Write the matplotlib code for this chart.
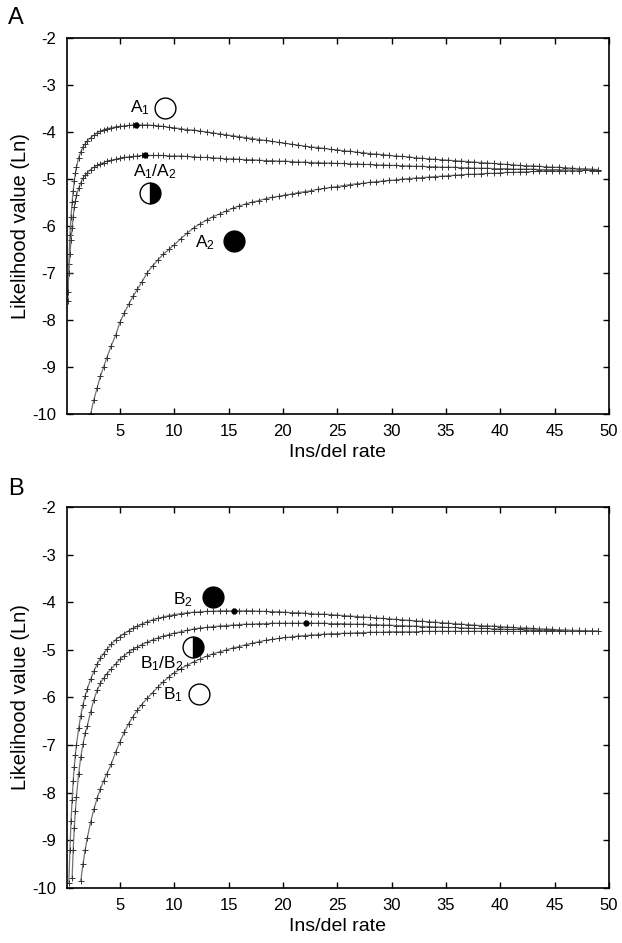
import numpy as np
import matplotlib
matplotlib.use('Agg')
import matplotlib.pyplot as plt

plt.rcParams['font.family'] = ['Liberation Sans', 'DejaVu Sans']
plt.rcParams['mathtext.fontset'] = 'custom'
plt.rcParams['mathtext.rm'] = 'Liberation Sans'
plt.rcParams['mathtext.it'] = 'Liberation Sans:italic'
plt.rcParams['axes.unicode_minus'] = False

nan = np.nan

# ins/del rate grid (shared by all curves)
rate = [0.2, 0.3, 0.4, 0.5, 0.6, 0.7, 0.8, 0.9, 1.0, 1.2, 1.4, 1.6, 1.8, 2.0,
        2.3, 2.6, 2.9, 3.2, 3.5, 3.8, 4.2, 4.6, 5.0, 5.4, 5.8, 6.2, 6.6, 7.0,
        7.5, 8.0, 8.5, 9.0, 9.5, 10.0,
        10.6, 11.2, 11.8, 12.4, 13.0, 13.6, 14.2, 14.8, 15.4, 16.0,
        16.6, 17.2, 17.8, 18.4, 19.0, 19.6, 20.2, 20.8, 21.4, 22.0,
        22.6, 23.2, 23.8, 24.4, 25.0, 25.6, 26.2, 26.8, 27.4, 28.0,
        28.6, 29.2, 29.8, 30.4, 31.0, 31.6, 32.2, 32.8, 33.4, 34.0,
        34.6, 35.2, 35.8, 36.4, 37.0, 37.6, 38.2, 38.8, 39.4, 40.0,
        40.6, 41.2, 41.8, 42.4, 43.0, 43.6, 44.2, 44.8, 45.4, 46.0,
        46.6, 47.2, 47.8, 48.4, 49.0]

# panel A
a1 = [-7.6, -6.8, -6.2, -5.8, -5.5, -5.25, -5.05, -4.88, -4.75, -4.55, -4.42, -4.32, -4.25, -4.19,
      -4.12, -4.07, -4.02, -3.98, -3.95, -3.93, -3.91, -3.89, -3.88, -3.87, -3.86, -3.85, -3.85, -3.85,
      -3.85, -3.86, -3.87, -3.88, -3.90, -3.91,
      -3.93, -3.95, -3.96, -3.98, -4.00, -4.02, -4.04, -4.06, -4.08, -4.10,
      -4.12, -4.14, -4.16, -4.18, -4.20, -4.22, -4.24, -4.26, -4.28, -4.30,
      -4.32, -4.33, -4.35, -4.37, -4.38, -4.40, -4.41, -4.43, -4.44, -4.46,
      -4.47, -4.48, -4.50, -4.51, -4.52, -4.53, -4.55, -4.56, -4.57, -4.58,
      -4.59, -4.60, -4.61, -4.62, -4.63, -4.64, -4.65, -4.66, -4.67, -4.68,
      -4.69, -4.70, -4.71, -4.72, -4.72, -4.73, -4.74, -4.75, -4.75, -4.76,
      -4.77, -4.78, -4.78, -4.79, -4.80]
a12 = [-7.4, -7.0, -6.6, -6.3, -6.05, -5.8, -5.6, -5.47, -5.35, -5.2, -5.08, -4.98, -4.92, -4.87,
       -4.8, -4.75, -4.71, -4.68, -4.65, -4.62, -4.6, -4.58, -4.56, -4.54, -4.53, -4.52, -4.51, -4.5,
       -4.5, -4.5, -4.5, -4.5, -4.51, -4.51,
       -4.51, -4.52, -4.53, -4.54, -4.54, -4.55, -4.56, -4.57, -4.57, -4.58,
       -4.59, -4.59, -4.60, -4.61, -4.61, -4.62, -4.62, -4.63, -4.64, -4.64,
       -4.65, -4.65, -4.66, -4.66, -4.67, -4.67, -4.68, -4.68, -4.69, -4.69,
       -4.70, -4.70, -4.71, -4.71, -4.72, -4.72, -4.73, -4.73, -4.74, -4.74,
       -4.75, -4.75, -4.75, -4.76, -4.76, -4.77, -4.77, -4.77, -4.78, -4.78,
       -4.78, -4.79, -4.79, -4.79, -4.79, -4.80, -4.80, -4.80, -4.80, -4.81,
       -4.81, -4.81, -4.81, -4.82, -4.82]
a2 = [nan, nan, nan, nan, nan, nan, nan, nan, nan, nan, nan, nan, nan, nan,
      -10.0, -9.7, -9.45, -9.2, -9.0, -8.8, -8.55, -8.33, -8.05, -7.85, -7.67, -7.5, -7.35, -7.2,
      -7.0, -6.85, -6.72, -6.6, -6.5, -6.4,
      -6.27, -6.15, -6.04, -5.95, -5.87, -5.80, -5.74, -5.68, -5.62, -5.57,
      -5.53, -5.49, -5.46, -5.42, -5.39, -5.37, -5.34, -5.32, -5.29, -5.27,
      -5.25, -5.22, -5.20, -5.18, -5.16, -5.14, -5.12, -5.10, -5.09, -5.07,
      -5.06, -5.04, -5.03, -5.02, -5.00, -4.99, -4.98, -4.97, -4.96, -4.95,
      -4.94, -4.93, -4.92, -4.91, -4.90, -4.90, -4.89, -4.88, -4.88, -4.87,
      -4.86, -4.86, -4.85, -4.85, -4.84, -4.84, -4.83, -4.83, -4.83, -4.82,
      -4.82, -4.82, -4.81, -4.81, -4.81]
peaks_a = [(6.5, -3.85), (7.3, -4.5)]

# panel B
b2 = [nan, -9.9, -9.2, -8.6, -8.15, -7.75, -7.45, -7.2, -7.0, -6.65, -6.38, -6.15, -5.97, -5.82,
      -5.62, -5.45, -5.3, -5.18, -5.08, -4.99, -4.88, -4.79, -4.72, -4.66, -4.6, -4.55, -4.5, -4.46,
      -4.41, -4.37, -4.34, -4.31, -4.28, -4.26,
      -4.24, -4.22, -4.21, -4.20, -4.19, -4.19, -4.18, -4.18, -4.18, -4.18,
      -4.18, -4.18, -4.19, -4.19, -4.20, -4.20, -4.21, -4.22, -4.22, -4.23,
      -4.24, -4.25, -4.25, -4.26, -4.27, -4.28, -4.29, -4.30, -4.31, -4.32,
      -4.33, -4.34, -4.35, -4.36, -4.37, -4.38, -4.39, -4.40, -4.41, -4.42,
      -4.43, -4.44, -4.45, -4.46, -4.47, -4.48, -4.49, -4.50, -4.50, -4.51,
      -4.52, -4.53, -4.54, -4.54, -4.55, -4.56, -4.56, -4.57, -4.58, -4.58,
      -4.59, -4.59, -4.60, -4.60, -4.61]
b12 = [nan, nan, nan, nan, -9.8, -9.2, -8.75, -8.38, -8.08, -7.6, -7.25, -6.98, -6.75, -6.6,
       -6.3, -6.05, -5.85, -5.7, -5.6, -5.5, -5.4, -5.3, -5.2, -5.12, -5.05, -4.99, -4.94, -4.89,
       -4.84, -4.79, -4.75, -4.71, -4.68, -4.65,
       -4.62, -4.59, -4.56, -4.54, -4.53, -4.51, -4.50, -4.49, -4.48, -4.47,
       -4.46, -4.46, -4.45, -4.45, -4.44, -4.44, -4.44, -4.44, -4.44, -4.44,
       -4.44, -4.44, -4.44, -4.45, -4.45, -4.45, -4.46, -4.46, -4.46, -4.47,
       -4.47, -4.48, -4.48, -4.49, -4.49, -4.50, -4.50, -4.51, -4.51, -4.52,
       -4.52, -4.53, -4.53, -4.54, -4.54, -4.55, -4.55, -4.55, -4.56, -4.56,
       -4.57, -4.57, -4.57, -4.58, -4.58, -4.58, -4.59, -4.59, -4.59, -4.60,
       -4.60, -4.60, -4.60, -4.61, -4.61]
b1 = [nan, nan, nan, nan, nan, nan, nan, nan, nan, nan, -9.85, -9.5, -9.2, -8.95,
      -8.62, -8.35, -8.12, -7.92, -7.75, -7.6, -7.4, -7.15, -6.93, -6.73, -6.55, -6.4, -6.27, -6.15,
      -6.02, -5.9, -5.78, -5.67, -5.57, -5.48,
      -5.40, -5.32, -5.25, -5.19, -5.13, -5.08, -5.04, -5.00, -4.96, -4.93,
      -4.89, -4.86, -4.83, -4.80, -4.78, -4.76, -4.74, -4.73, -4.71, -4.70,
      -4.69, -4.68, -4.67, -4.66, -4.66, -4.65, -4.65, -4.64, -4.64, -4.63,
      -4.63, -4.63, -4.62, -4.62, -4.62, -4.62, -4.62, -4.61, -4.61, -4.61,
      -4.61, -4.61, -4.61, -4.61, -4.61, -4.61, -4.61, -4.61, -4.61, -4.61,
      -4.61, -4.61, -4.61, -4.61, -4.61, -4.61, -4.61, -4.61, -4.61, -4.61,
      -4.61, -4.61, -4.61, -4.61, -4.61]
peaks_b = [(15.5, -4.18), (22.1, -4.44)]

fig = plt.figure(figsize=(6.22, 9.43), dpi=100)
axA = fig.add_axes([0.1077, 0.561, 0.8713, 0.3987])
axB = fig.add_axes([0.1077, 0.0583, 0.8713, 0.4041])


def draw_panel(ax, curves, peaks):
    for ys in curves:
        ax.plot(rate, ys, '-', color='0.45', lw=0.9)
        ax.plot(rate, ys, '+', color='0.2', ms=4.5, mew=0.7)
    for px, py in peaks:
        ax.plot(px, py, 'o', color='black', ms=3.5)
    ax.set_xlim(0.13, 50)
    ax.set_ylim(-10, -2)
    ax.set_xticks(range(5, 51, 5))
    ax.set_yticks(range(-10, -1))
    ax.tick_params(direction='in', top=True, right=True, length=4, width=1,
                   labelsize=12)
    ax.tick_params(axis='x', pad=7)
    ax.tick_params(axis='y', pad=8)
    for s in ax.spines.values():
        s.set_linewidth(1.2)
    ax.set_xlabel('Ins/del rate', fontsize=14, labelpad=4)
    ax.set_ylabel('Likelihood value (Ln)', fontsize=14.5, labelpad=1)


def symbol(ax, x, y, kind):
    if kind == 'open':
        ax.plot(x, y, 'o', ms=15, mfc='white', mec='black', mew=1.0)
    elif kind == 'filled':
        ax.plot(x, y, 'o', ms=15, mfc='black', mec='black', mew=1.0)
    else:
        ax.plot(x, y, 'o', ms=15, fillstyle='right', mfc='black',
                mfcalt='white', mec='black', mew=1.0)


draw_panel(axA, [a1, a12, a2], peaks_a)
draw_panel(axB, [b2, b12, b1], peaks_b)

fs = 12.5
# panel A annotations
axA.text(6.84, -3.49, 'A$_1$', fontsize=fs, ha='center', va='center')
symbol(axA, 9.14, -3.49, 'open')
axA.text(8.22, -4.85, 'A$_1$/A$_2$', fontsize=fs, ha='center', va='center')
symbol(axA, 7.76, -5.3, 'half')
axA.text(12.8, -6.36, 'A$_2$', fontsize=fs, ha='center', va='center')
symbol(axA, 15.5, -6.32, 'filled')

# panel B annotations
axB.text(10.8, -3.95, 'B$_2$', fontsize=fs, ha='center', va='center')
symbol(axB, 13.6, -3.89, 'filled')
symbol(axB, 11.7, -4.94, 'half')
axB.text(8.87, -5.28, 'B$_1$/B$_2$', fontsize=fs, ha='center', va='center')
axB.text(9.88, -5.95, 'B$_1$', fontsize=fs, ha='center', va='center')
symbol(axB, 12.27, -5.92, 'open')

fig.text(0.025, 0.981, 'A', fontsize=17, ha='center', va='center')
fig.text(0.025, 0.481, 'B', fontsize=17, ha='center', va='center')

fig.savefig('out.png', dpi=100)
